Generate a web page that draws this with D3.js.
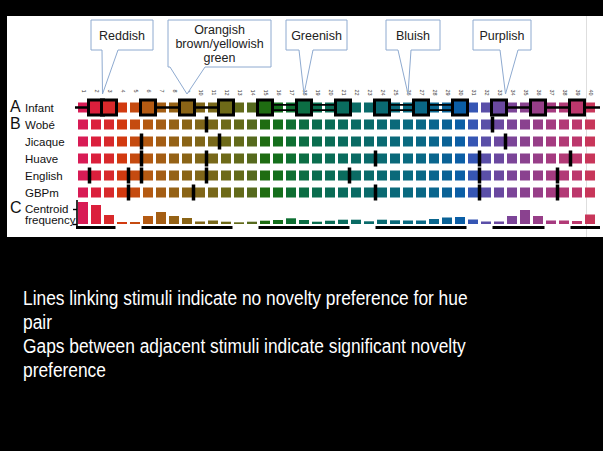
<!DOCTYPE html>
<html>
<head>
<meta charset="utf-8">
<script src="https://cdn.jsdelivr.net/npm/d3@7"></script>
<style>
  html, body { margin: 0; padding: 0; background: #000; }
  svg { display: block; font-family: "Liberation Sans", Arial, Helvetica, sans-serif; }
</style>
</head>
<body>
<svg id="chart" width="603" height="451"></svg>
<script>
// ---- data ------------------------------------------------------------
const hues = d3.range(1, 41);
const hueColors = [
  "#d81b55", "#db1f3c", "#d8292b", "#d23a10", "#c54b10", "#b45a12", "#a45e14", "#956216",
  "#8a6416", "#806618", "#78681a", "#6e6a18", "#636a1a", "#566a1e", "#1f6c12", "#146f1c",
  "#0e6f32", "#0c6e44", "#0a6d4e", "#0a6c56", "#0a6c5e", "#0a6b64", "#0a6a6a", "#0a6a72",
  "#0a697a", "#0a6a80", "#0a6886", "#0a668e", "#0a6296", "#0b5ea6", "#3656b4", "#5a4fa8",
  "#6a48a0", "#7c4598", "#8a428f", "#973e88", "#a53b80", "#b23a76", "#bc376c", "#c8365a"
];
const rowNames = ["Infant", "Wobé", "Jicaque", "Huave", "English", "GBPm"];
const languages = ["Wobé", "Jicaque", "Huave", "English", "GBPm"];
// category boundary after stimulus n (between n and n+1)
const boundaryWobe = [10, 32];
const boundaryJicaque = [5, 11, 33];
const boundaryHuave = [5, 10, 23, 31, 38];
const boundaryEnglish = [1, 4, 5, 10, 21, 31, 37];
const boundaryGBPm = [4, 9, 23, 31, 37];
// infant familiarisation stimuli and links (no novelty preference)
const infantStimuli = [2, 3, 6, 9, 12, 15, 18, 21, 24, 27, 30, 33, 36, 39];
const infantSingleLinks = [[6, 9], [9, 12], [33, 36], [36, 39], [39, 42]]; // 42 wraps to 2
const infantDoubleLinks = [[15, 18], [18, 21], [24, 27], [27, 30]];
// centroid frequency per hue
const centroidFreq = [
  22, 19, 9, 2, 2, 8, 12, 8, 6, 2.5, 3.5, 2.3, 1.7, 2.3, 3.3, 4, 5.7, 4, 2.3, 3.3,
  4.3, 4.3, 2.7, 4.3, 3.7, 3.5, 3.5, 5, 6.5, 7, 4.5, 2.5, 2.5, 8, 14, 8, 3.5, 3.5, 3, 9.5
];
const infantCategories = [[1, 3], [6, 12], [15, 21], [24, 30], [33, 36], [39, 40]];
const calloutLabels = [["Reddish"], ["Orangish", "brown/yellowish", "green"], ["Greenish"], ["Bluish"], ["Purplish"]];
const calloutTargets = [2.5, 9, 18, 26, 33.5];
const noteLines = [
  "Lines linking stimuli indicate no novelty preference for hue",
  "pair",
  "Gaps between adjacent stimuli indicate significant novelty",
  "preference"
];

// ---- layout ----------------------------------------------------------
const svg = d3.select("#chart");

svg.append("rect").attr("x", 0).attr("y", 0).attr("width", 603).attr("height", 451).attr("fill", "#000");
svg.append("rect").attr("x", 7).attr("y", 16).attr("width", 596).attr("height", 221).attr("fill", "#fff");
svg.append("line").attr("x1", 586.5).attr("x2", 586.5).attr("y1", 16).attr("y2", 237)
  .attr("stroke", "#dedede").attr("stroke-width", 1);

const x = d3.scaleBand().domain(hues).range([78, 595]).paddingInner(3 / 13).paddingOuter(0);
const bw = x.bandwidth();
const xc = d3.scaleLinear().domain([1, 40]).range([x(1) + bw / 2, x(40) + bw / 2]);
const y = d3.scalePoint().domain(rowNames).range([107.5, 192.5]);
const color = d3.scaleOrdinal().domain(hues).range(hueColors);

// hue number labels above the infant row
svg.append("g").selectAll("text").data(hues).join("text")
  .attr("transform", d => `translate(${xc(d)},89.5) rotate(90)`)
  .attr("text-anchor", "start").attr("dominant-baseline", "middle")
  .attr("font-size", 5.5).attr("fill", "#333").text(d => d);

// swatch rows
rowNames.forEach(r => {
  svg.append("g").selectAll("rect").data(hues).join("rect")
    .attr("x", d => x(d)).attr("y", y(r) - bw / 2)
    .attr("width", bw).attr("height", bw)
    .attr("fill", d => color(d));
});

// row labels
const labelG = svg.append("g").attr("fill", "#111");
rowNames.forEach(r => {
  labelG.append("text").attr("x", 25).attr("y", y(r) + 4.5).attr("font-size", 11.5).text(r);
});
labelG.append("text").attr("x", 10).attr("y", y("Infant") + 4.5).attr("font-size", 16).text("A");
labelG.append("text").attr("x", 10).attr("y", y("Wobé") + 4).attr("font-size", 16).text("B");
labelG.append("text").attr("x", 10).attr("y", 213).attr("font-size", 16).text("C");
labelG.append("text").attr("x", 25).attr("y", 213).attr("font-size", 11.5).text("Centroid");
labelG.append("text").attr("x", 25).attr("y", 224).attr("font-size", 11.5).text("frequency");

// language category boundaries
const boundaries = [boundaryWobe, boundaryJicaque, boundaryHuave, boundaryEnglish, boundaryGBPm];
languages.forEach((lang, i) => {
  svg.append("g").selectAll("rect").data(boundaries[i]).join("rect")
    .attr("x", d => x(d) + bw + 1.5 - 1.75).attr("y", y(lang) - 8)
    .attr("width", 3.5).attr("height", 16).attr("fill", "#000");
});

// infant links
const iy = y("Infant");
const linkG = svg.append("g").attr("stroke", "#000");
infantSingleLinks.forEach(([a, b]) => {
  if (b > 40) {
    linkG.append("line").attr("x1", xc(a)).attr("x2", 600).attr("y1", iy).attr("y2", iy).attr("stroke-width", 2.5);
    linkG.append("line").attr("x1", 75).attr("x2", xc(b - 40)).attr("y1", iy).attr("y2", iy).attr("stroke-width", 2.5);
  } else {
    linkG.append("line").attr("x1", xc(a)).attr("x2", xc(b)).attr("y1", iy).attr("y2", iy).attr("stroke-width", 2.5);
  }
});
infantDoubleLinks.forEach(([a, b]) => {
  [-2.6, 2.6].forEach(off => {
    linkG.append("line").attr("x1", xc(a)).attr("x2", xc(b)).attr("y1", iy + off).attr("y2", iy + off).attr("stroke-width", 1.8);
  });
});

// infant stimuli
svg.append("g").selectAll("rect").data(infantStimuli).join("rect")
  .attr("x", d => xc(d) - 7.5).attr("y", iy - 7.5)
  .attr("width", 15).attr("height", 15)
  .attr("fill", d => color(d)).attr("stroke", "#000").attr("stroke-width", 3);

// centroid frequency histogram
const yF = d3.scaleLinear().domain([0, 24]).range([224, 200]);
svg.append("g").selectAll("rect").data(hues).join("rect")
  .attr("x", d => x(d)).attr("y", d => yF(centroidFreq[d - 1]))
  .attr("width", bw).attr("height", d => yF(0) - yF(centroidFreq[d - 1]))
  .attr("fill", d => color(d));

const axisG = svg.append("g").attr("transform", "translate(77,0)")
  .call(d3.axisLeft(yF).tickValues([0, 15]).tickSize(4).tickSizeOuter(0).tickFormat(""));
axisG.select(".domain").attr("stroke", "#000").attr("stroke-width", 1.6).attr("d", "M0,200V228");
axisG.selectAll(".tick line").attr("stroke", "#000").attr("stroke-width", 1.4);

svg.append("g").selectAll("rect").data(infantCategories).join("rect")
  .attr("x", d => d[0] === 1 ? 76 : x(d[0]) - 1.5)
  .attr("y", 226)
  .attr("width", d => (d[1] === 40 ? 600 : x(d[1]) + bw + 1.5) - (d[0] === 1 ? 76 : x(d[0]) - 1.5))
  .attr("height", 3).attr("fill", "#000");

// callouts
const calloutBoxes = [
  { x0: 91, x1: 153, y0: 20, y1: 50, b0: 102, b1: 118 },
  { x0: 168, x1: 271, y0: 20, y1: 67, b0: 170, b1: 205 },
  { x0: 286, x1: 347, y0: 20, y1: 50, b0: 299, b1: 313 },
  { x0: 386, x1: 440, y0: 20, y1: 50, b0: 398, b1: 411 },
  { x0: 473, x1: 531, y0: 20, y1: 50, b0: 500, b1: 518 }
];
calloutLabels.forEach((lines, i) => {
  const b = calloutBoxes[i];
  const tipX = xc(calloutTargets[i]);
  const tipY = 94;
  const p = d3.path();
  p.moveTo(b.x0, b.y0); p.lineTo(b.x1, b.y0); p.lineTo(b.x1, b.y1);
  p.lineTo(b.b1, b.y1); p.lineTo(tipX, tipY); p.lineTo(b.b0, b.y1);
  p.lineTo(b.x0, b.y1); p.closePath();
  svg.append("path").attr("d", p.toString()).attr("fill", "#fff")
    .attr("stroke", "#8eaad0").attr("stroke-width", 1);
  const cx = (b.x0 + b.x1) / 2;
  const startY = lines.length === 1 ? 40 : 34;
  lines.forEach((t, j) => {
    svg.append("text").attr("x", cx).attr("y", startY + j * 14)
      .attr("text-anchor", "middle").attr("font-size", 12.5).attr("fill", "#222").text(t);
  });
});

// notes
const noteG = svg.append("g").attr("fill", "#fff");
const noteTexts = noteLines.map((t, i) =>
  noteG.append("text").attr("x", 0).attr("y", 305 + i * 24).attr("font-size", 21).text(t));
const natural = noteTexts[0].node().getComputedTextLength();
const sx = 445 / natural;
noteG.attr("transform", `translate(23,0) scale(${sx},1)`);
</script>
</body>
</html>
